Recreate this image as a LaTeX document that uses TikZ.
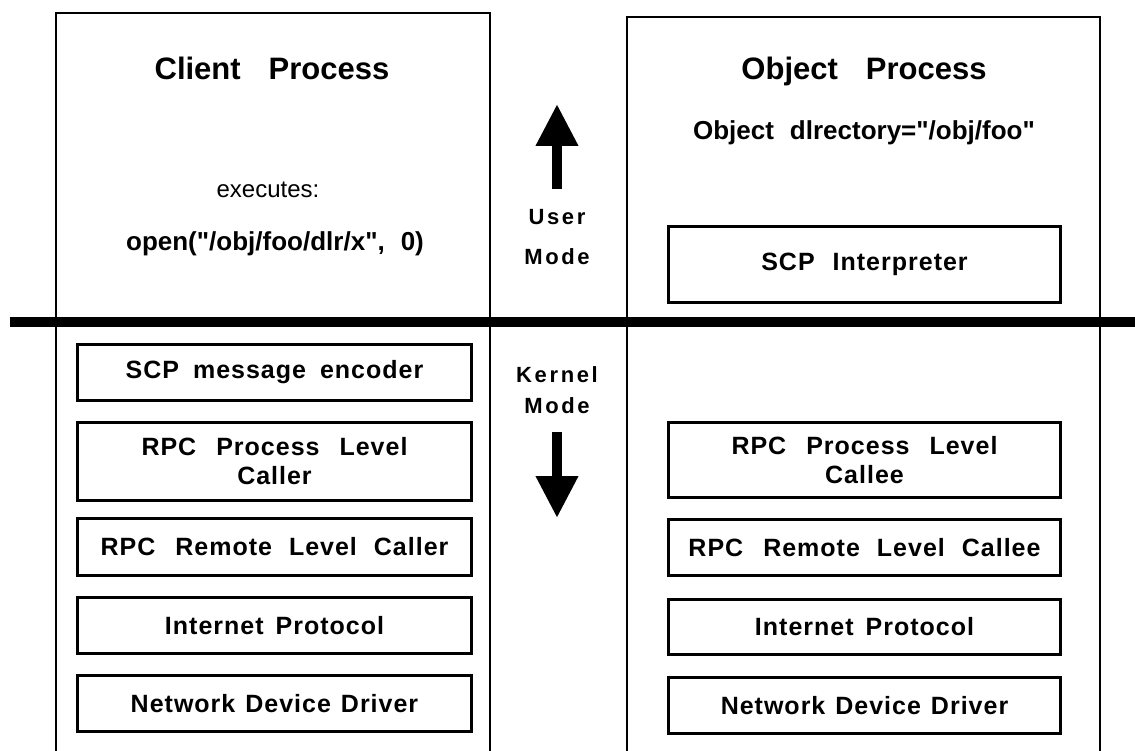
\documentclass[tikz,border=0pt]{standalone}
\usepackage{fontspec}
\setmainfont{Liberation Sans}[Ligatures=TeXOff]
\newfontfamily\modefont{Liberation Sans Bold}[LetterSpace=12]
\newfontfamily\layerfont{Liberation Sans Bold}[LetterSpace=4]
\usetikzlibrary{arrows.meta}

\tikzset{
  frame/.style={line width=2.6pt},
  divider/.style={line width=9pt},
  layerL/.style={draw, line width=2.8pt, inner sep=0pt, align=center,
    minimum width=394pt, font=\layerfont\fontsize{25}{29}\selectfont},
  layerR/.style={layerL, minimum width=392pt},
  heading/.style={inner sep=0pt, anchor=base, font=\bfseries\fontsize{31}{34}\selectfont},
  plain/.style={inner sep=0pt, anchor=base, font=\fontsize{24}{27}\selectfont},
  code/.style={inner sep=0pt, anchor=base, font=\bfseries\fontsize{26}{30}\selectfont},
  modelabel/.style={inner sep=0pt, font=\modefont\fontsize{22}{26}\selectfont},
  modearrow/.style={line width=10pt, -{Triangle[width=40pt,length=42pt]}},
}

\newcommand{\wgap}[1]{\hspace*{#1pt}}

\begin{document}
\begin{tikzpicture}[x=1pt,y=-1pt]
  \useasboundingbox (0,0) rectangle (1135,751);

  % process frames (open at the bottom)
  \draw[frame] (56,760) -- (56,13) -- (490,13) -- (490,760);
  \draw[frame] (627,760) -- (627,17) -- (1100,17) -- (1100,760);

  % user / kernel boundary
  \draw[divider] (10,322) -- (1145,322);

  % client process (user part)
  \node[heading] (ctitle) at (272,80) {Client\wgap{28}Process};
  \node[plain] (cexec) at (268,198) {executes:};
  \node[code] (copen) at (275,251) {open("/obj/foo/dlr/x",\wgap{16}0)};

  % object process (user part)
  \node[heading] (otitle) at (864,80) {Object\wgap{28}Process};
  \node[code] (odir) at (864,140) {Object\wgap{16}dlrectory="/obj/foo"};
  \node[layerR, minimum height=76pt] (scpint) at (864.5,264.5) {SCP\wgap{18}Interpreter};

  % mode labels and arrows
  \coordinate (upS) at (557,189);
  \coordinate (upT) at (557,104);
  \draw[modearrow] (upS) -- (upT);
  \node[modelabel] (user) at (557,217) {User};
  \node[modelabel] (umode) at (557,257) {Mode};
  \node[modelabel] (kernel) at (557,375) {Kernel};
  \node[modelabel] (kmode) at (557,406) {Mode};
  \coordinate (dnS) at (557,432);
  \coordinate (dnT) at (557,518);
  \draw[modearrow] (dnS) -- (dnT);

  % client kernel layers
  \node[layerL, minimum height=56pt] (enc) at (274.5,372.5) {SCP\wgap{14}message\wgap{14}encoder};
  \node[layerL, minimum height=78pt] (pcaller) at (274.5,461.5) {RPC\wgap{20}Process\wgap{20}Level\\Caller};
  \node[layerL, minimum height=57pt] (rcaller) at (274.5,547) {RPC\wgap{20}Remote\wgap{17}Level\wgap{17}Caller};
  \node[layerL, minimum height=56pt] (ipL) at (274.5,625.5) {Internet\wgap{12}Protocol};
  \node[layerL, minimum height=56pt] (nddL) at (274.5,703.5) {Network\wgap{10}Device\wgap{10}Driver};

  % object kernel layers
  \node[layerR, minimum height=75pt] (pcallee) at (864.5,460) {RPC\wgap{20}Process\wgap{20}Level\\Callee};
  \node[layerR, minimum height=56pt] (rcallee) at (864.5,547.5) {RPC\wgap{20}Remote\wgap{17}Level\wgap{17}Callee};
  \node[layerR, minimum height=55pt] (ipR) at (864.5,627) {Internet\wgap{12}Protocol};
  \node[layerR, minimum height=56pt] (nddR) at (864.5,705.5) {Network\wgap{10}Device\wgap{10}Driver};
\end{tikzpicture}
\end{document}
